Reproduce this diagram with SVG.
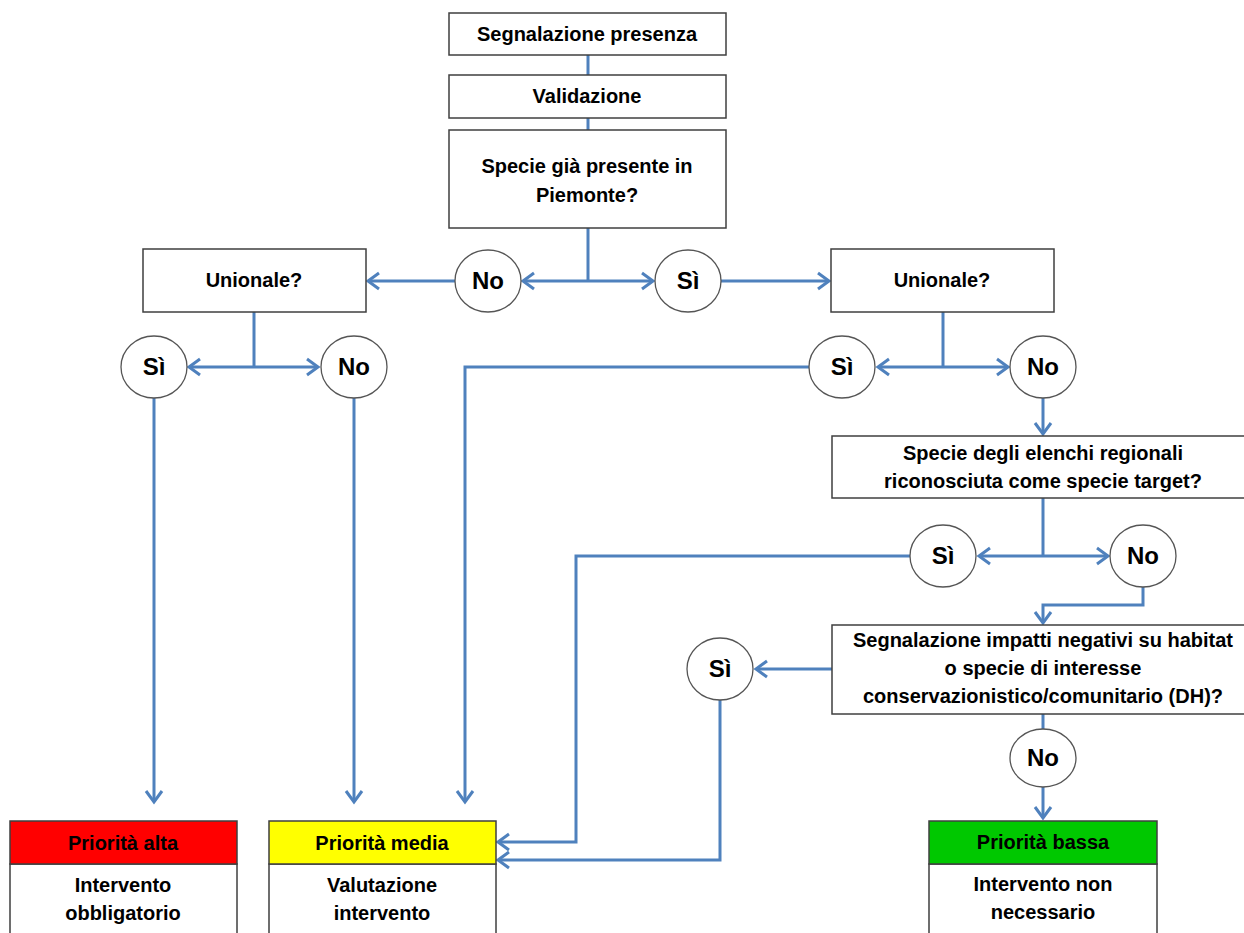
<svg xmlns="http://www.w3.org/2000/svg" width="1244" height="933" viewBox="0 0 1244 933">
<style>
.box{fill:#fff;stroke:#3f3f3f;stroke-width:1.5}
.circ{fill:#fff;stroke:#555;stroke-width:1.3}
.t{font-family:"Liberation Sans",Arial,sans-serif;font-weight:bold;font-size:20px;fill:#000;text-anchor:middle}
.c{font-family:"Liberation Sans",Arial,sans-serif;font-weight:bold;font-size:24px;fill:#000;text-anchor:middle}
.ln{fill:none;stroke:#4F81BD;stroke-width:3}
.ar{fill:none;stroke:#4F81BD;stroke-width:3;marker-end:url(#ah)}
</style>
<defs>
<marker id="ah" markerUnits="userSpaceOnUse" markerWidth="20" markerHeight="20" viewBox="-12 -10 14 20" refX="0" refY="0" orient="auto">
<path d="M-11,-8 L0,0 L-11,8" fill="none" stroke="#4F81BD" stroke-width="3"/>
</marker>
</defs>
<rect width="1244" height="933" fill="#fff"/>
<g id="connectors">
<line class="ln" x1="588" y1="55" x2="588" y2="75"/>
<line class="ln" x1="588" y1="118" x2="588" y2="130"/>
<line class="ln" x1="588" y1="228" x2="588" y2="281"/>
<line class="ar" x1="588" y1="281" x2="523" y2="281"/>
<line class="ar" x1="588" y1="281" x2="653" y2="281"/>
<line class="ar" x1="455" y1="281" x2="368" y2="281"/>
<line class="ar" x1="721" y1="281" x2="829" y2="281"/>
<line class="ln" x1="254" y1="312" x2="254" y2="367"/>
<line class="ar" x1="254" y1="367" x2="189" y2="367"/>
<line class="ar" x1="254" y1="367" x2="318" y2="367"/>
<line class="ar" x1="154" y1="398" x2="154" y2="802"/>
<line class="ar" x1="354" y1="398" x2="354" y2="802"/>
<line class="ln" x1="943" y1="312" x2="943" y2="367"/>
<line class="ar" x1="943" y1="367" x2="878" y2="367"/>
<line class="ar" x1="943" y1="367" x2="1008" y2="367"/>
<path class="ar" d="M809,367 H465 V802"/>
<line class="ar" x1="1043" y1="398" x2="1043" y2="434"/>
<line class="ln" x1="1043" y1="498" x2="1043" y2="556"/>
<line class="ar" x1="1043" y1="556" x2="979" y2="556"/>
<line class="ar" x1="1043" y1="556" x2="1108" y2="556"/>
<path class="ar" d="M910,556 H576 V842 H498"/>
<path class="ar" d="M1143,587 V605 H1043 V623"/>
<line class="ar" x1="832" y1="669" x2="756" y2="669"/>
<path class="ar" d="M720,700 V860 H498"/>
<line class="ln" x1="1043" y1="714" x2="1043" y2="729"/>
<line class="ar" x1="1043" y1="787" x2="1043" y2="818"/>
</g>
<g id="n-segnalazione">
<rect class="box" x="449" y="13" width="277" height="42"/>
<text class="t" x="587" y="41">Segnalazione presenza</text>
</g>
<g id="n-validazione">
<rect class="box" x="449" y="75" width="277" height="43"/>
<text class="t" x="587" y="103">Validazione</text>
</g>
<g id="n-specie-piemonte">
<rect class="box" x="449" y="130" width="277" height="98"/>
<text class="t" x="587" y="173">Specie già presente in</text>
<text class="t" x="587" y="202">Piemonte?</text>
</g>
<g id="c-no1">
<ellipse class="circ" cx="488" cy="281" rx="33" ry="31"/>
<text class="c" x="488" y="289">No</text>
</g>
<g id="c-si1">
<ellipse class="circ" cx="688" cy="281" rx="33" ry="31"/>
<text class="c" x="688" y="289">Sì</text>
</g>
<g id="n-unionale-left">
<rect class="box" x="143" y="249" width="223" height="63"/>
<text class="t" x="254" y="287">Unionale?</text>
</g>
<g id="n-unionale-right">
<rect class="box" x="831" y="249" width="223" height="63"/>
<text class="t" x="942" y="287">Unionale?</text>
</g>
<g id="c-si-left">
<ellipse class="circ" cx="154" cy="367" rx="33" ry="31"/>
<text class="c" x="154" y="375">Sì</text>
</g>
<g id="c-no-left">
<ellipse class="circ" cx="354" cy="367" rx="33" ry="31"/>
<text class="c" x="354" y="375">No</text>
</g>
<g id="c-si-right">
<ellipse class="circ" cx="842" cy="367" rx="33" ry="31"/>
<text class="c" x="842" y="375">Sì</text>
</g>
<g id="c-no-right">
<ellipse class="circ" cx="1043" cy="367" rx="33" ry="31"/>
<text class="c" x="1043" y="375">No</text>
</g>
<g id="n-elenchi">
<rect class="box" x="832" y="436" width="430" height="62"/>
<text class="t" x="1043" y="460">Specie degli elenchi regionali</text>
<text class="t" x="1043" y="488">riconosciuta come specie target?</text>
</g>
<g id="c-si-elenchi">
<ellipse class="circ" cx="943" cy="556" rx="33" ry="31"/>
<text class="c" x="943" y="564">Sì</text>
</g>
<g id="c-no-elenchi">
<ellipse class="circ" cx="1143" cy="556" rx="33" ry="31"/>
<text class="c" x="1143" y="564">No</text>
</g>
<g id="n-impatti">
<rect class="box" x="832" y="625" width="430" height="89"/>
<text class="t" x="1043" y="647">Segnalazione impatti negativi su habitat</text>
<text class="t" x="1043" y="675">o specie di interesse</text>
<text class="t" x="1043" y="703">conservazionistico/comunitario (DH)?</text>
</g>
<g id="c-si-impatti">
<ellipse class="circ" cx="720" cy="669" rx="33" ry="31"/>
<text class="c" x="720" y="677">Sì</text>
</g>
<g id="c-no-impatti">
<ellipse class="circ" cx="1043" cy="758" rx="33" ry="29"/>
<text class="c" x="1043" y="766">No</text>
</g>
<g id="n-alta">
<rect class="box" x="10" y="864" width="227" height="90"/>
<rect class="box" x="10" y="821" width="227" height="43" fill="#FF0000" style="fill:#FF0000"/>
<text class="t" x="123" y="850">Priorità alta</text>
<text class="t" x="123" y="892">Intervento</text>
<text class="t" x="123" y="920">obbligatorio</text>
</g>
<g id="n-media">
<rect class="box" x="269" y="864" width="227" height="90"/>
<rect class="box" x="269" y="821" width="227" height="43" style="fill:#FFFF00"/>
<text class="t" x="382" y="850">Priorità media</text>
<text class="t" x="382" y="892">Valutazione</text>
<text class="t" x="382" y="920">intervento</text>
</g>
<g id="n-bassa">
<rect class="box" x="929" y="864" width="228" height="90"/>
<rect class="box" x="929" y="821" width="228" height="43" style="fill:#00C800"/>
<text class="t" x="1043" y="849">Priorità bassa</text>
<text class="t" x="1043" y="891">Intervento non</text>
<text class="t" x="1043" y="919">necessario</text>
</g>
</svg>
